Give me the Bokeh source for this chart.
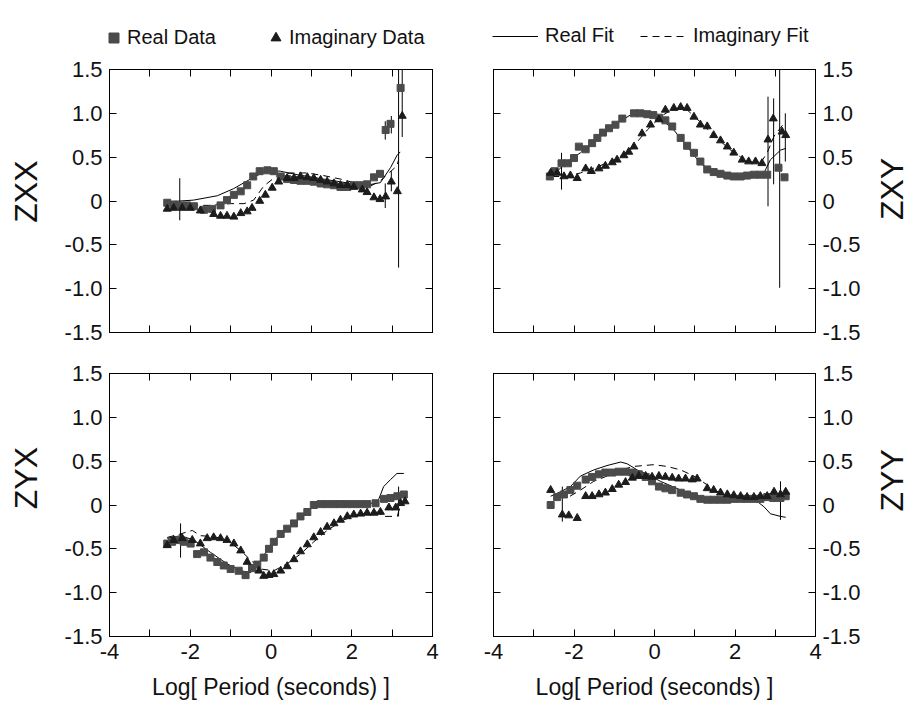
import math
from bokeh.plotting import figure
from bokeh.models import (ColumnDataSource, Whisker, Legend, LegendItem, LinearAxis,
                          FixedTicker, Range1d, Label)
from bokeh.layouts import row, column
from bokeh.embed import file_html
from bokeh.resources import INLINE

FONT = "Liberation Sans"
SQ_COLOR = "#4b4b4b"
TRI_COLOR = "#1c1c1c"
TEXT_COLOR = "#111111"
NAN = float("nan")

# ---- axis ticks -------------------------------------------------------------
x_major = [-4, -2, 0, 2, 4]
x_minor = [-3, -1, 1, 3]
x_all = [-4, -3, -2, -1, 0, 1, 2, 3, 4]
x_tick_labels = {-4: "-4", -2: "-2", 0: "0", 2: "2", 4: "4"}
y_ticks = [-1.5, -1.0, -0.5, 0, 0.5, 1.0, 1.5]
y_tick_labels = {-1.5: "-1.5", -1: "-1.0", -0.5: "-0.5", 0: "0", 0.5: "0.5", 1: "1.0", 1.5: "1.5"}

# ---- ZXX ---------------------------------------------------------------------
zxx_real_x = [-2.57, -2.41, -2.24, -2.08, -1.91, -1.66, -1.46, -1.25, -1.09, -0.92, -0.75, -0.59,
              -0.44, -0.28, -0.09, 0.07, 0.24, 0.40, 0.57, 0.73, 0.90, 1.06, 1.23, 1.39, 1.56,
              1.72, 1.89, 2.05, 2.22, 2.38, 2.55, 2.70, 2.84, 2.96, 3.21]
zxx_real = [-0.02, -0.04, -0.05, -0.05, -0.06, -0.10, -0.09, -0.05, 0.01, 0.07, 0.11, 0.18,
            0.28, 0.34, 0.35, 0.34, 0.28, 0.25, 0.24, 0.23, 0.23, 0.22, 0.20, 0.19, 0.18,
            0.16, 0.16, 0.18, 0.18, 0.19, 0.27, 0.31, 0.81, 0.88, 1.29]
zxx_imag_x = [-2.57, -2.41, -2.20, -2.00, -1.75, -1.42, -1.25, -1.09, -0.92, -0.75, -0.59, -0.47,
              -0.28, -0.14, 0.03, 0.19, 0.40, 0.57, 0.73, 0.90, 1.06, 1.23, 1.39, 1.56, 1.72,
              1.89, 2.05, 2.26, 2.38, 2.55, 2.70, 2.84, 2.98, 3.13, 3.25]
zxx_imag = [-0.09, -0.08, -0.08, -0.08, -0.11, -0.15, -0.17, -0.17, -0.18, -0.14, -0.12, -0.08,
            0.00, 0.07, 0.15, 0.22, 0.26, 0.26, 0.28, 0.27, 0.26, 0.24, 0.22, 0.20, 0.18,
            0.18, 0.16, 0.13, 0.10, 0.04, 0.02, 0.05, 0.22, 0.11, 0.97]
zxx_fit_real_x = [-2.57, -1.92, -1.33, -0.93, -0.51, -0.10, 0.23, 0.65, 1.30, 1.97, 2.38, 2.71, 2.96, 3.12, 3.20]
zxx_fit_real = [-0.01, 0.01, 0.06, 0.14, 0.25, 0.35, 0.34, 0.30, 0.25, 0.20, 0.18, 0.21, 0.38, 0.52, 0.56]
zxx_fit_imag_x = [-2.57, -2.08, -1.50, -1.00, -0.67, -0.43, -0.18, 0.15, 0.48, 0.89, 1.30, 1.72, 2.13, 2.46, 2.71, 2.87, 3.12, 3.16]
zxx_fit_imag = [-0.03, -0.05, -0.05, -0.03, -0.03, 0.01, 0.17, 0.29, 0.32, 0.32, 0.29, 0.25, 0.20, 0.17, 0.23, 0.30, 0.40, 0.47]
zxx_err_x = [-2.26, 2.83, 2.83, 2.98, 2.98, 3.16, 3.25]
zxx_err_lo = [-0.22, -0.08, 0.70, 0.11, 0.77, -0.76, 0.73]
zxx_err_hi = [0.26, 0.20, 0.91, 0.34, 0.97, 2.20, 1.53]

# ---- ZXY ---------------------------------------------------------------------
zxy_real_x = [-2.60, -2.48, -2.31, -2.15, -2.00, -1.88, -1.71, -1.55, -1.42, -1.28, -1.13, -0.97,
              -0.80, -0.51, -0.35, -0.18, -0.03, 0.11, 0.27, 0.44, 0.65, 0.81, 0.98, 1.14, 1.31,
              1.47, 1.64, 1.81, 1.97, 2.14, 2.30, 2.47, 2.63, 2.80, 3.08, 3.23]
zxy_real = [0.28, 0.34, 0.43, 0.43, 0.49, 0.62, 0.59, 0.66, 0.72, 0.78, 0.83, 0.87,
            0.94, 1.00, 1.00, 0.99, 0.98, 0.95, 0.92, 0.85, 0.72, 0.63, 0.55, 0.45, 0.36,
            0.33, 0.31, 0.29, 0.28, 0.28, 0.29, 0.30, 0.30, 0.30, 0.38, 0.27]
zxy_imag_x = [-2.58, -2.42, -2.25, -2.09, -1.92, -1.71, -1.57, -1.38, -1.22, -1.05, -0.93, -0.76,
              -0.64, -0.51, -0.31, -0.10, 0.11, 0.27, 0.48, 0.65, 0.81, 0.98, 1.14, 1.31, 1.47,
              1.64, 1.81, 1.97, 2.18, 2.34, 2.51, 2.67, 2.82, 2.95, 3.17, 3.26]
zxy_imag = [0.32, 0.32, 0.28, 0.29, 0.26, 0.37, 0.34, 0.37, 0.40, 0.44, 0.47, 0.52,
            0.56, 0.62, 0.77, 0.87, 0.93, 1.04, 1.06, 1.07, 1.06, 0.96, 0.87, 0.85, 0.75,
            0.69, 0.62, 0.55, 0.47, 0.45, 0.45, 0.43, 0.70, 0.94, 0.79, 0.75]
zxy_fit_real_x = [-2.46, -2.17, -1.84, -1.42, -1.00, -0.60, -0.18, 0.15, 0.48, 0.81, 1.14, 1.47, 1.97, 2.55, 2.72, 2.88, 3.13, 3.26]
zxy_fit_real = [0.32, 0.45, 0.55, 0.72, 0.87, 0.98, 1.00, 0.94, 0.81, 0.62, 0.43, 0.33, 0.28, 0.30, 0.32, 0.47, 0.58, 0.60]
zxy_fit_imag_x = [-2.54, -2.17, -1.84, -1.42, -1.00, -0.60, -0.18, 0.15, 0.48, 0.81, 1.14, 1.47, 1.89, 2.30, 2.63, 2.80, 2.97, 3.26]
zxy_fit_imag = [0.28, 0.28, 0.32, 0.39, 0.47, 0.58, 0.81, 0.96, 1.06, 1.04, 0.90, 0.75, 0.58, 0.45, 0.43, 0.55, 0.74, 0.91]
zxy_err_x = [-2.31, 2.82, 2.96, 3.11, 3.25]
zxy_err_lo = [0.13, -0.06, 0.19, -0.99, 0.45]
zxy_err_hi = [0.55, 1.19, 1.17, 2.10, 1.00]

# ---- ZYX ---------------------------------------------------------------------
zyx_real_x = [-2.57, -2.45, -2.32, -2.16, -1.99, -1.83, -1.66, -1.50, -1.33, -1.17, -1.00, -0.80,
              -0.63, -0.47, -0.34, -0.18, -0.05, 0.07, 0.24, 0.40, 0.57, 0.73, 0.90, 1.06, 1.23,
              1.39, 1.56, 1.72, 1.89, 2.05, 2.22, 2.38, 2.59, 2.80, 2.96, 3.13, 3.29]
zyx_real = [-0.44, -0.42, -0.40, -0.42, -0.44, -0.56, -0.54, -0.60, -0.65, -0.69, -0.73, -0.75,
            -0.80, -0.72, -0.68, -0.60, -0.50, -0.42, -0.33, -0.27, -0.21, -0.13, -0.08, 0.00, 0.01,
            0.01, 0.01, 0.01, 0.01, 0.01, 0.01, 0.01, 0.02, 0.07, 0.08, 0.10, 0.12]
zyx_imag_x = [-2.57, -2.41, -2.20, -1.95, -1.75, -1.58, -1.42, -1.25, -1.09, -0.92, -0.75, -0.59,
              -0.30, -0.18, -0.05, 0.07, 0.24, 0.40, 0.57, 0.73, 0.90, 1.06, 1.23, 1.39, 1.56,
              1.72, 1.89, 2.05, 2.22, 2.38, 2.55, 2.71, 2.92, 3.09, 3.21, 3.32]
zyx_imag = [-0.46, -0.40, -0.38, -0.40, -0.44, -0.38, -0.37, -0.38, -0.40, -0.44, -0.52, -0.65,
            -0.75, -0.81, -0.80, -0.79, -0.75, -0.70, -0.62, -0.53, -0.45, -0.37, -0.31, -0.25, -0.21,
            -0.17, -0.13, -0.11, -0.10, -0.09, -0.09, -0.08, -0.03, -0.03, 0.02, 0.04]
zyx_fit_real_x = [-2.57, -2.24, -1.91, -1.50, -1.09, -0.75, -0.50, -0.26, 0.07, 0.57, 1.06, 1.80, 2.63, 2.79, 2.96, 3.12, 3.29]
zyx_fit_real = [-0.38, -0.35, -0.40, -0.54, -0.67, -0.75, -0.77, -0.63, -0.40, -0.21, -0.01, 0.02, 0.02, 0.21, 0.29, 0.36, 0.36]
zyx_fit_imag_x = [-2.57, -2.24, -1.95, -1.75, -1.42, -1.09, -0.75, -0.50, -0.26, 0.07, 0.40, 0.73, 1.06, 1.39, 1.80, 2.22, 2.67, 2.75, 3.13, 3.21]
zyx_fit_imag = [-0.37, -0.33, -0.29, -0.35, -0.36, -0.40, -0.52, -0.63, -0.73, -0.75, -0.67, -0.56, -0.42, -0.29, -0.17, -0.10, -0.08, -0.13, -0.13, 0.02]
zyx_err_x = [-2.24, 3.16]
zyx_err_lo = [-0.60, -0.13]
zyx_err_hi = [-0.21, 0.21]

# ---- ZYY ---------------------------------------------------------------------
zyy_real_x = [-2.58, -2.42, -2.25, -2.09, -1.92, -1.71, -1.55, -1.38, -1.22, -1.05, -0.89, -0.72,
              -0.55, -0.39, -0.22, -0.06, 0.11, 0.27, 0.44, 0.65, 0.81, 0.98, 1.14, 1.31, 1.47,
              1.64, 1.81, 1.97, 2.14, 2.30, 2.47, 2.63, 2.80, 2.95, 3.13, 3.26]
zyy_real = [0.00, 0.09, 0.12, 0.17, 0.22, 0.29, 0.32, 0.35, 0.37, 0.37, 0.38, 0.38,
            0.37, 0.35, 0.32, 0.27, 0.21, 0.19, 0.17, 0.14, 0.12, 0.10, 0.07, 0.06, 0.06,
            0.06, 0.06, 0.07, 0.07, 0.07, 0.07, 0.07, 0.09, 0.08, 0.08, 0.10]
zyy_imag_x = [-2.58, -2.29, -2.13, -1.92, -1.71, -1.55, -1.38, -1.22, -1.05, -0.89, -0.72, -0.55,
              -0.39, -0.22, -0.06, 0.11, 0.27, 0.44, 0.60, 0.77, 0.94, 1.06, 1.31, 1.47, 1.64,
              1.81, 1.97, 2.14, 2.30, 2.47, 2.63, 2.80, 2.97, 3.13, 3.26]
zyy_imag = [0.17, -0.11, -0.12, -0.15, 0.10, 0.10, 0.12, 0.14, 0.18, 0.23, 0.26, 0.31,
            0.33, 0.33, 0.32, 0.33, 0.32, 0.31, 0.30, 0.30, 0.29, 0.30, 0.19, 0.17, 0.14,
            0.12, 0.11, 0.10, 0.09, 0.09, 0.10, 0.10, 0.15, 0.12, 0.15]
zyy_fit_real_x = [-2.58, -2.34, -2.09, -1.84, -1.51, -1.18, -0.84, -0.68, -0.43, -0.18, 0.15, 0.65, 1.14, 1.64, 2.14, 2.47, 2.72, 2.88, 3.13, 3.26]
zyy_fit_real = [0.10, 0.15, 0.21, 0.33, 0.40, 0.45, 0.49, 0.47, 0.40, 0.35, 0.27, 0.17, 0.08, 0.06, 0.06, 0.07, -0.02, -0.10, -0.13, -0.14]
zyy_fit_imag_x = [-2.10, -1.84, -1.51, -1.18, -0.84, -0.51, -0.27, -0.02, 0.31, 0.65, 0.98, 1.31, 1.64, 1.97, 2.47, 3.13]
zyy_fit_imag = [0.10, 0.17, 0.27, 0.33, 0.40, 0.44, 0.45, 0.46, 0.44, 0.40, 0.33, 0.23, 0.13, 0.08, 0.07, 0.07]
zyy_err_x = [-2.29, 3.13]
zyy_err_lo = [-0.19, -0.17]
zyy_err_hi = [0.21, 0.27]

# ---- styles shared by the panels and the key ---------------------------------
REAL_PTS = dict(marker="square", fill_color=SQ_COLOR, line_color=SQ_COLOR)
IMAG_PTS = dict(marker="triangle", fill_color=TRI_COLOR, line_color=TRI_COLOR)
REAL_LINE = dict(line_color="black", line_width=1)
IMAG_LINE = dict(line_color="black", line_width=1, line_dash="7 5")


def blank(width, height):
    """A bare figure used as a strip for keys and side titles."""
    f = figure(width=width, height=height, x_range=Range1d(0, width), y_range=Range1d(0, height),
               x_axis_location=None, y_axis_location=None, min_border=0,
               output_backend="svg", toolbar_location=None)
    f.grid.visible = False
    f.outline_line_color = None
    f.background_fill_color = "white"
    f.border_fill_color = "white"
    return f


def side_title(width, height, text, cx, cy_from_top):
    f = blank(width, height)
    f.add_layout(Label(x=cx, y=height - cy_from_top, text=text, angle=math.pi / 2,
                       text_align="center", text_baseline="middle",
                       text_font=FONT, text_font_size="32px", text_color=TEXT_COLOR))
    return f


def add_axis(p, side, major, minor, labels=None, title=None):
    ax = LinearAxis(ticker=FixedTicker(ticks=major, minor_ticks=minor))
    ax.major_tick_in = 7
    ax.major_tick_out = 0
    ax.minor_tick_in = 7
    ax.minor_tick_out = 0
    ax.axis_line_color = "black"
    ax.major_tick_line_color = "black"
    ax.minor_tick_line_color = "black"
    ax.major_label_standoff = 7
    if labels is not None:
        ax.major_label_overrides = labels
        ax.major_label_text_font = FONT
        ax.major_label_text_font_size = "22px"
        ax.major_label_text_color = TEXT_COLOR
    if title is not None:
        ax.axis_label = title
        ax.axis_label_text_font = FONT
        ax.axis_label_text_font_style = "normal"
        ax.axis_label_text_color = TEXT_COLOR
    p.add_layout(ax, side)
    return ax


def panel(width, height, borders, y_side, x_labels):
    left, right, top, bottom = borders
    p = figure(width=width, height=height,
               x_range=Range1d(-4, 4), y_range=Range1d(-1.5, 1.5),
               x_axis_location=None, y_axis_location=None,
               min_border_left=left, min_border_right=right,
               min_border_top=top, min_border_bottom=bottom,
               output_backend="svg", toolbar_location=None)
    p.grid.visible = False
    p.outline_line_color = "black"
    p.outline_line_width = 1
    p.background_fill_color = "white"
    p.border_fill_color = "white"

    other = "right" if y_side == "left" else "left"
    add_axis(p, y_side, y_ticks, [], y_tick_labels)
    add_axis(p, other, [], y_ticks)
    add_axis(p, "above", [], x_all)
    if x_labels:
        xax = add_axis(p, "below", x_major, x_minor, x_tick_labels, "Log[ Period (seconds) ]")
        xax.axis_label_text_font_size = "23px"
        xax.axis_label_standoff = 12
    else:
        add_axis(p, "below", [], x_all)
    return p


def draw(p, rx, ry, ix, iy, frx, fry, fix, fiy, ex, elo, ehi):
    p.line(frx, fry, **REAL_LINE)
    p.line(fix, fiy, **IMAG_LINE)
    p.scatter(rx, ry, size=7, **REAL_PTS)
    p.scatter(ix, iy, size=8, **IMAG_PTS)
    src = ColumnDataSource(data=dict(x=ex, lo=elo, hi=ehi))
    p.add_layout(Whisker(source=src, base="x", lower="lo", upper="hi", dimension="height",
                         line_color="black", line_width=1, lower_head=None, upper_head=None))


# page geometry (pixels)
PAGE_W = 912
KEY_H = 55
H_T, H_B = 350 - KEY_H, 357
S_L, W_L, W_R, S_R = 50, 410, 405, 47

# key strip across the top of the page; its renderers carry no visible points
key = blank(PAGE_W, KEY_H)
k_sq = key.scatter([NAN], [NAN], size=10, **REAL_PTS)
k_tri = key.scatter([NAN], [NAN], size=12, **IMAG_PTS)
k_real = key.line([NAN, NAN], [NAN, NAN], **REAL_LINE)
k_imag = key.line([NAN, NAN], [NAN, NAN], **IMAG_LINE)

leg_data = Legend(items=[LegendItem(label="Real Data", renderers=[k_sq], index=0),
                         LegendItem(label="Imaginary Data", renderers=[k_tri], index=0)],
                  orientation="horizontal", location=(101, KEY_H - 24.5 - 25),
                  glyph_width=25, glyph_height=25, label_height=25, label_standoff=1,
                  spacing=47, padding=0, margin=0,
                  border_line_color=None, background_fill_alpha=0,
                  label_text_font=FONT, label_text_font_size="20px", label_text_color=TEXT_COLOR)
key.add_layout(leg_data)

leg_fit = Legend(items=[LegendItem(label="Real Fit", renderers=[k_real]),
                        LegendItem(label="Imaginary Fit", renderers=[k_imag])],
                 orientation="horizontal", location=(492, KEY_H - 27 - 20),
                 glyph_width=46, glyph_height=20, label_height=20, label_standoff=7,
                 spacing=26, padding=0, margin=0,
                 border_line_color=None, background_fill_alpha=0,
                 label_text_font=FONT, label_text_font_size="20px", label_text_color=TEXT_COLOR)
key.add_layout(leg_fit)

p_zxx = panel(W_L, H_T, (59, 28, 69 - KEY_H, 18), "left", False)
p_zxy = panel(W_R, H_T, (33, 50, 69 - KEY_H, 18), "right", False)
p_zyx = panel(W_L, H_B, (59, 28, 23, 71), "left", True)
p_zyy = panel(W_R, H_B, (33, 50, 23, 71), "right", True)

draw(p_zxx, zxx_real_x, zxx_real, zxx_imag_x, zxx_imag,
     zxx_fit_real_x, zxx_fit_real, zxx_fit_imag_x, zxx_fit_imag,
     zxx_err_x, zxx_err_lo, zxx_err_hi)
draw(p_zxy, zxy_real_x, zxy_real, zxy_imag_x, zxy_imag,
     zxy_fit_real_x, zxy_fit_real, zxy_fit_imag_x, zxy_fit_imag,
     zxy_err_x, zxy_err_lo, zxy_err_hi)
draw(p_zyx, zyx_real_x, zyx_real, zyx_imag_x, zyx_imag,
     zyx_fit_real_x, zyx_fit_real, zyx_fit_imag_x, zyx_fit_imag,
     zyx_err_x, zyx_err_lo, zyx_err_hi)
draw(p_zyy, zyy_real_x, zyy_real, zyy_imag_x, zyy_imag,
     zyy_fit_real_x, zyy_fit_real, zyy_fit_imag_x, zyy_fit_imag,
     zyy_err_x, zyy_err_lo, zyy_err_hi)

# component titles beside each panel, reading bottom-to-top
t_zxx = side_title(S_L, H_T, "ZXX", 25, 137)
t_zxy = side_title(S_R, H_T, "ZXY", 26, 134)
t_zyx = side_title(S_L, H_B, "ZYX", 25, 142)
t_zyy = side_title(S_R, H_B, "ZYY", 26, 145)

layout = column(key,
                row(t_zxx, p_zxx, p_zxy, t_zxy),
                row(t_zyx, p_zyx, p_zyy, t_zyy))

open("out.html", "w").write(file_html(layout, INLINE))
